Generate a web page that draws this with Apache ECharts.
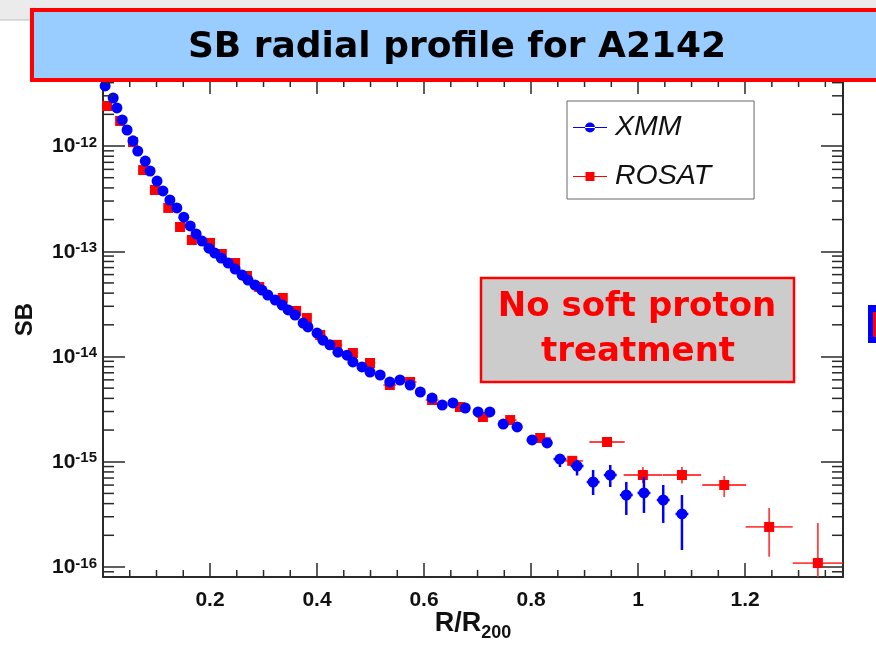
<!DOCTYPE html>
<html>
<head>
<meta charset="utf-8">
<script src="https://cdn.jsdelivr.net/npm/echarts@6/dist/echarts.min.js"></script>
<style>
  html, body { margin: 0; padding: 0; background: #ffffff; }
  #chart { width: 876px; height: 645px; }
</style>
</head>
<body>
<div id="chart"></div>
<script>
// XMM surface-brightness profile (R/R200, SB)
const xmmR = [0.004, 0.019, 0.026, 0.036, 0.045, 0.056, 0.065, 0.079, 0.088, 0.101,
  0.112, 0.125, 0.138, 0.151, 0.163, 0.174, 0.185, 0.198, 0.209, 0.221,
  0.234, 0.247, 0.260, 0.271, 0.284, 0.297, 0.308, 0.322, 0.335, 0.346,
  0.359, 0.374, 0.383, 0.400, 0.411, 0.424, 0.439, 0.456, 0.467, 0.484,
  0.499, 0.518, 0.536, 0.555, 0.574, 0.593, 0.615, 0.634, 0.654, 0.677,
  0.701, 0.723, 0.748, 0.774, 0.802, 0.830, 0.854, 0.886, 0.916, 0.948,
  0.978, 1.011, 1.047, 1.082];
const xmmSB = [3.72e-12, 2.86e-12, 2.30e-12, 1.77e-12, 1.42e-12, 1.12e-12, 8.96e-13, 7.20e-13, 5.79e-13, 4.65e-13,
  3.74e-13, 3.07e-13, 2.58e-13, 2.11e-13, 1.74e-13, 1.46e-13, 1.25e-13, 1.07e-13, 9.62e-14, 8.63e-14,
  7.73e-14, 6.78e-14, 5.95e-14, 5.33e-14, 4.78e-14, 4.28e-14, 3.84e-14, 3.44e-14, 3.08e-14, 2.77e-14,
  2.48e-14, 2.08e-14, 1.91e-14, 1.67e-14, 1.43e-14, 1.29e-14, 1.10e-14, 1.03e-14, 8.87e-15, 7.95e-15,
  7.12e-15, 6.67e-15, 5.72e-15, 5.98e-15, 5.36e-15, 4.60e-15, 4.03e-15, 3.46e-15, 3.62e-15, 3.24e-15,
  2.97e-15, 2.97e-15, 2.28e-15, 2.14e-15, 1.61e-15, 1.51e-15, 1.06e-15, 9.11e-16, 6.42e-16, 7.48e-16,
  4.83e-16, 5.05e-16, 4.33e-16, 3.19e-16];
// XMM error bars for the outer bins (index -> [low, high]) and bin half-width
const xmmSBErr = {
  56: [8.9e-16, 1.16e-15], 57: [7.4e-16, 1.04e-15], 58: [4.83e-16, 8.35e-16], 59: [5.75e-16, 9.31e-16],
  60: [3.12e-16, 6.43e-16], 61: [3.26e-16, 7.16e-16], 62: [2.62e-16, 6.01e-16], 63: [1.45e-16, 4.83e-16]
};
const xmmRHalfWidth = { 52: 0.01, 53: 0.01, 54: 0.01, 55: 0.01, 56: 0.012, 57: 0.012, 58: 0.012,
  59: 0.012, 60: 0.012, 61: 0.012, 62: 0.012, 63: 0.012 };

// ROSAT surface-brightness profile
const rosatR = [0.0075, 0.032, 0.056, 0.075, 0.097, 0.122, 0.144, 0.166, 0.200, 0.222,
  0.247, 0.269, 0.292, 0.336, 0.361, 0.381, 0.406, 0.437, 0.467, 0.499,
  0.536, 0.574, 0.615, 0.667, 0.710, 0.761, 0.817, 0.877, 0.942, 1.009,
  1.082, 1.161, 1.245, 1.336];
const rosatSB = [2.40e-12, 1.73e-12, 1.09e-12, 5.91e-13, 3.82e-13, 2.58e-13, 1.70e-13, 1.28e-13, 1.20e-13, 9.42e-14,
  7.73e-14, 5.82e-14, 4.57e-14, 3.60e-14, 2.71e-14, 2.32e-14, 1.60e-14, 1.29e-14, 1.08e-14, 8.67e-15,
  5.36e-15, 5.73e-15, 3.86e-15, 3.31e-15, 2.66e-15, 2.49e-15, 1.68e-15, 1.02e-15, 1.54e-15, 7.48e-16,
  7.48e-16, 6.01e-16, 2.40e-16, 1.09e-16];
const rosatRHalfWidth = [0.008, 0.008, 0.008, 0.008, 0.008, 0.008, 0.008, 0.008, 0.008, 0.008,
  0.008, 0.008, 0.008, 0.008, 0.008, 0.008, 0.01, 0.01, 0.01, 0.01,
  0.012, 0.012, 0.012, 0.012, 0.012, 0.012, 0.02, 0.02, 0.033, 0.036,
  0.036, 0.041, 0.044, 0.047];
const rosatSBErr = {
  29: [6.28e-16, 8.9e-16], 30: [6.2e-16, 8.9e-16], 31: [4.62e-16, 7.33e-16],
  32: [1.25e-16, 3.64e-16], 33: [5.0e-17, 2.62e-16]
};

// Axis ranges and tick settings
const rMin = 0, rMax = 1.383, rMajor = 0.2, rMinor = 0.05;
const sbMin = 8.03e-17, sbMax = 4.24e-12;

const FONT = 'Liberation Sans';
const AXIS_COLOR = '#2a2a2a';

function errorBars(rs, sbs, halfWidth, sbErr, color, width, opacity, z) {
  const data = rs.map((r, i) => {
    const e = sbErr[i] || [sbs[i], sbs[i]];
    return [r, sbs[i], halfWidth[i] || 0, e[0], e[1]];
  });
  return {
    type: 'custom',
    clip: true,
    silent: true,
    z: z,
    encode: { x: 0, y: 1 },
    data: data,
    renderItem: function (params, api) {
      const r = api.value(0), sb = api.value(1), dr = api.value(2);
      const lo = api.value(3), hi = api.value(4);
      const style = { stroke: color, lineWidth: width, opacity: opacity };
      const children = [];
      if (dr > 0) {
        const a = api.coord([r - dr, sb]), b = api.coord([r + dr, sb]);
        children.push({ type: 'line', shape: { x1: a[0], y1: a[1], x2: b[0], y2: b[1] }, style: style });
      }
      if (hi > lo) {
        const a = api.coord([r, lo]), b = api.coord([r, hi]);
        children.push({ type: 'line', shape: { x1: a[0], y1: a[1], x2: b[0], y2: b[1] }, style: style });
      }
      return { type: 'group', children: children };
    }
  };
}

// Minor ticks on all four frame sides (log 2..9 on SB, 0.05 steps on R)
const minorTickSeries = {
  type: 'custom',
  silent: true,
  z: 10,
  data: [[0.5, 1e-14]],
  encode: { x: 0, y: 1 },
  renderItem: function (params, api) {
    const children = [];
    const style = { stroke: AXIS_COLOR, lineWidth: 1.5 };
    for (let k = 1; k * rMinor < rMax; k++) {
      if (k % 4 === 0) continue;
      const v = k * rMinor;
      const b = api.coord([v, sbMin]), t = api.coord([v, sbMax]);
      children.push({ type: 'line', shape: { x1: b[0], y1: b[1], x2: b[0], y2: b[1] - 7 }, style: style });
      children.push({ type: 'line', shape: { x1: t[0], y1: t[1], x2: t[0], y2: t[1] + 7 }, style: style });
    }
    for (let n = -17; n <= -12; n++) {
      for (let m = 2; m <= 9; m++) {
        const v = m * Math.pow(10, n);
        if (v <= sbMin || v >= sbMax) continue;
        const l = api.coord([rMin, v]), rr = api.coord([rMax, v]);
        children.push({ type: 'line', shape: { x1: l[0], y1: l[1], x2: l[0] + 11, y2: l[1] }, style: style });
        children.push({ type: 'line', shape: { x1: rr[0], y1: rr[1], x2: rr[0] - 11, y2: rr[1] }, style: style });
      }
    }
    return { type: 'group', children: children };
  }
};

function rLabel(v) {
  if (v <= 0) return '';
  const q = v / rMajor;
  if (Math.abs(q - Math.round(q)) > 1e-6) return '';
  return String(Math.round(v * 10) / 10);
}
function sbLabel(v) {
  const e = Math.log10(v);
  if (Math.abs(e - Math.round(e)) > 1e-6) return '';
  return '{b|10}{e|' + Math.round(e) + '}';
}

const axisLineStyle = { color: AXIS_COLOR, width: 2 };
const tickStyle = { color: AXIS_COLOR, width: 1.5 };

const chart = echarts.init(document.getElementById('chart'), null, { renderer: 'canvas' });
chart.setOption({
  animation: false,
  backgroundColor: '#ffffff',
  grid: { left: 103, right: 33, top: 80, bottom: 68, containLabel: false, outerBoundsMode: 'none' },
  xAxis: [{
    type: 'value', position: 'bottom', min: rMin, max: rMax, interval: rMajor,
    axisLine: { show: true, onZero: false, lineStyle: axisLineStyle },
    axisTick: { show: true, inside: true, length: 14, lineStyle: tickStyle },
    splitLine: { show: false },
    axisLabel: { formatter: rLabel, fontFamily: FONT, fontSize: 21, fontWeight: 'bold', color: '#111', margin: 13,
      showMinLabel: false, showMaxLabel: false },
    name: '{a|R/R}{s|200}', nameLocation: 'middle', nameGap: 33, nameMoveOverlap: false,
    nameTextStyle: { rich: {
      a: { fontFamily: FONT, fontSize: 27, fontWeight: 'bold', color: '#111', verticalAlign: 'top', lineHeight: 32 },
      s: { fontFamily: FONT, fontSize: 18, fontWeight: 'bold', color: '#111', verticalAlign: 'bottom', lineHeight: 32 }
    } }
  }, {
    type: 'value', position: 'top', min: rMin, max: rMax, interval: rMajor,
    axisLine: { show: true, onZero: false, lineStyle: axisLineStyle },
    axisTick: { show: true, inside: true, length: 14, lineStyle: tickStyle },
    splitLine: { show: false }, axisLabel: { show: false }
  }],
  yAxis: [{
    type: 'log', logBase: 10, position: 'left', min: sbMin, max: sbMax,
    axisLine: { show: true, onZero: false, lineStyle: axisLineStyle },
    axisTick: { show: true, inside: true, length: 22, lineStyle: tickStyle },
    splitLine: { show: false },
    axisLabel: { formatter: sbLabel, margin: 6, showMinLabel: false, showMaxLabel: false,
      rich: {
        b: { fontFamily: FONT, fontSize: 21, fontWeight: 'bold', color: '#111', verticalAlign: 'bottom', lineHeight: 22 },
        e: { fontFamily: FONT, fontSize: 15, fontWeight: 'bold', color: '#111', verticalAlign: 'top', lineHeight: 22 }
      } },
    name: 'SB', nameLocation: 'middle', nameGap: 66, nameRotate: 90, nameMoveOverlap: false,
    nameTextStyle: { fontFamily: FONT, fontSize: 24, fontWeight: 'bold', color: '#111', padding: [0, 0, 0, 18] }
  }, {
    type: 'log', logBase: 10, position: 'right', min: sbMin, max: sbMax,
    axisLine: { show: true, onZero: false, lineStyle: axisLineStyle },
    axisTick: { show: true, inside: true, length: 22, lineStyle: tickStyle },
    splitLine: { show: false }, axisLabel: { show: false }
  }],
  legend: {
    orient: 'vertical', left: 567, top: 101,
    backgroundColor: '#ffffff', borderColor: '#666666', borderWidth: 1,
    padding: [12, 43, 8, 6], itemGap: 20, itemWidth: 34, itemHeight: 10,
    textStyle: { fontFamily: FONT, fontSize: 28.5, fontStyle: 'italic', color: '#111', padding: [0, 0, 0, 3] },
    data: [
      { name: 'XMM', icon: 'path://M0,4.5h34v1h-34z M12,5a5,5 0 1,0 10,0a5,5 0 1,0 -10,0z' },
      { name: 'ROSAT', icon: 'path://M0,4.5h34v1h-34z M12.5,0.5h9v9h-9z' }
    ],
    z: 20
  },
  series: [
    errorBars(rosatR, rosatSB, rosatRHalfWidth, rosatSBErr, '#ff2020', 1.8, 0.85, 2),
    {
      name: 'ROSAT', type: 'scatter', symbol: 'rect', symbolSize: 10, z: 3,
      itemStyle: { color: '#ff0000', opacity: 1 },
      data: rosatR.map((r, i) => [r, rosatSB[i]])
    },
    errorBars(xmmR, xmmSB, xmmRHalfWidth, xmmSBErr, '#0000ff', 2.5, 1, 4),
    {
      name: 'XMM', type: 'scatter', symbol: 'circle', symbolSize: 11, z: 5,
      itemStyle: { color: '#0000ff', opacity: 1 },
      data: xmmR.map((r, i) => [r, xmmSB[i]])
    },
    minorTickSeries
  ],
  graphic: [
    { type: 'rect', z: 100, shape: { x: 0, y: 0, width: 876, height: 20 }, style: { fill: '#ebebeb' } },
    { type: 'line', z: 100, shape: { x1: 0, y1: 20, x2: 32, y2: 20 }, style: { stroke: '#bdbdbd', lineWidth: 1 } },
    { type: 'rect', z: 101, shape: { x: 32, y: 10, width: 900, height: 70 },
      style: { fill: '#99ccff', stroke: '#ff0000', lineWidth: 4 } },
    { type: 'text', z: 102, x: 457, y: 48,
      style: { text: 'SB radial profile for A2142', fontFamily: 'DejaVu Sans', fontSize: 36, fontWeight: 'bold',
        fill: '#000000', align: 'center', verticalAlign: 'middle' } },
    { type: 'rect', z: 101, shape: { x: 481, y: 278, width: 313, height: 104 },
      style: { fill: '#cccccc', stroke: '#ff0000', lineWidth: 2.5 } },
    { type: 'text', z: 102, x: 637, y: 307,
      style: { text: 'No soft proton', fontFamily: 'DejaVu Sans', fontSize: 34, fontWeight: 'bold',
        fill: '#ff0000', align: 'center', verticalAlign: 'middle' } },
    { type: 'text', z: 102, x: 638, y: 352,
      style: { text: 'treatment', fontFamily: 'DejaVu Sans', fontSize: 34, fontWeight: 'bold',
        fill: '#ff0000', align: 'center', verticalAlign: 'middle' } },
    { type: 'rect', z: 101, shape: { x: 868, y: 305, width: 10, height: 38 }, style: { fill: '#0000ff' } },
    { type: 'rect', z: 102, shape: { x: 873, y: 312, width: 5, height: 25 }, style: { fill: '#ff0000' } }
  ]
});
</script>
</body>
</html>
